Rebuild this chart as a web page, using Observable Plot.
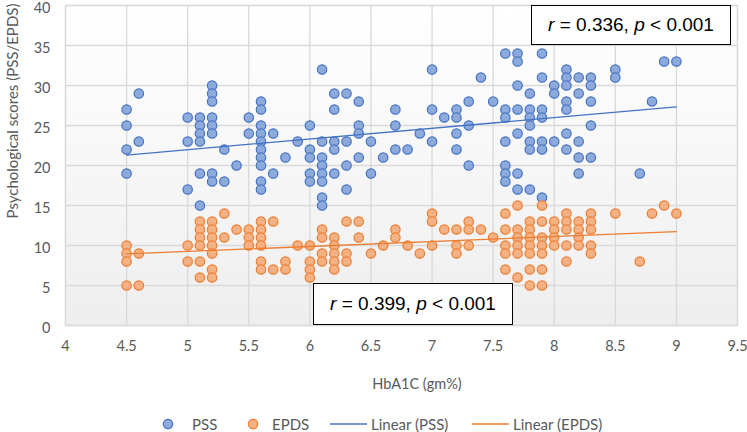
<!DOCTYPE html>
<html>
<head>
<meta charset="utf-8">
<script src="https://cdn.jsdelivr.net/npm/d3@7"></script>
<script src="https://cdn.jsdelivr.net/npm/@observablehq/plot@0.6"></script>
<style>
  html, body { margin: 0; padding: 0; background: #fff; }
  #wrap { position: relative; width: 747px; height: 432px; font-family: Lato, "Open Sans", sans-serif; color: #595959; overflow: hidden; }
  .note { position: absolute; box-sizing: border-box; background: #fff; border: 1.6px solid #000;
          font-family: "Liberation Sans", Arial, sans-serif; font-size: 19px; color: #000;
          display: flex; align-items: center; justify-content: center; }
  .title { position: absolute; white-space: nowrap; transform: translate(-50%, -50%); }
  .leg { position: absolute; top: 424px; transform: translateY(-50%); font-size: 15px; white-space: nowrap; display: flex; align-items: center; }
</style>
</head>
<body>
<div id="wrap"></div>
<script>
// HbA1C values (gm%) shared by both series
const hba1c = [4.5, 4.6, 5.0, 5.1, 5.2, 5.3, 5.4, 5.5, 5.6, 5.7, 5.8, 5.9, 6.0, 6.1, 6.2, 6.3, 6.4, 6.5, 6.6, 6.7, 6.8, 6.9, 7.0, 7.1, 7.2, 7.3, 7.4, 7.5, 7.6, 7.7, 7.8, 7.9, 8.0, 8.1, 8.2, 8.3, 8.5, 8.7, 8.8, 8.9, 9.0];
// PSS scores at each HbA1C value
const pssScores = [
  [27,25,22,19],[29,23],[26,23,17],[26,25,24,23,19,15],[30,29,28,26,25,24,19,18],[22,18],[20],[26,24],
  [28,27,25,24,23,22,21,20,18,17],[24,19],[21],[23],[25,22,21,19,18],[32,23,21,20,19,18,16,15],
  [29,27,23,22,19],[29,23,20,17],[28,25,24,21],[23,19],[21],[27,25,22],[22],[24],[32,27,23],[26],
  [27,26,24,22],[28,25,20],[31],[28],[34,27,26,23,20,19,18],[34,33,30,27,24,19,17],
  [29,27,26,25,23,22,17],[34,31,27,26,23,22,16],[30,29,23],[32,31,30,28,27,24,22],
  [31,29,23,21,19],[31,30,28,25,21],[32,31],[19],[28],[33],[33]
];
// EPDS scores at each HbA1C value
const epdsScores = [
  [10,9,8,5],[9,5],[10,8],[13,12,11,10,8,6],[13,12,11,10,9,7,6],[14,11],[12],[12,11,10],
  [13,12,11,10,8,7],[13,7],[8,7],[10],[10,8,7,6],[12,11,9,8],[11,10,9,8,7],[13,9,8],[13,11],[9],
  [10],[12,11],[10],[9],[14,13,10],[12],[12,10,9],[13,12,10],[12],[11],[14,12,10,9,7],
  [15,12,11,10,9,6],[13,12,11,10,9,7,5],[15,13,11,10,9,7,5],[13,12,11,10],[14,13,12,10,8],
  [13,12,11,10],[14,13,12,10,9],[14],[8],[14],[15],[14]
];
const xTicks = [4, 4.5, 5, 5.5, 6, 6.5, 7, 7.5, 8, 8.5, 9, 9.5];
const yTicks = [0, 5, 10, 15, 20, 25, 30, 35, 40];
const seriesNames = ["PSS", "EPDS"];
const notes = ["0.336", "0.399"];
const xTitle = "HbA1C (gm%)";
const yTitle = "Psychological scores (PSS/EPDS)";

const flatten = (scores) => hba1c.flatMap((x, i) => scores[i].map(y => ({x, y})));
const pss = flatten(pssScores);
const epds = flatten(epdsScores);

const blue = "#4472c4", blueFill = "#8eaadb";
const orange = "#ed7d31", orangeFill = "#f4b183";

const chart = Plot.plot({
  width: 747,
  height: 395,
  marginLeft: 65,
  marginRight: 10,
  marginTop: 5,
  marginBottom: 70,
  style: {fontFamily: "Lato, 'Open Sans', sans-serif", fontSize: "14.5px", color: "#595959", background: "transparent"},
  x: {domain: [4, 9.5]},
  y: {domain: [0, 40]},
  marks: [
    Plot.frame({fill: "url(#plotBg)", stroke: null}),
    Plot.gridX(xTicks, {stroke: "#d9d9d9", strokeOpacity: 1, strokeWidth: 1.3}),
    Plot.gridY(yTicks, {stroke: "#d9d9d9", strokeOpacity: 1, strokeWidth: 1.3}),
    Plot.frame({stroke: "#d9d9d9", strokeWidth: 1.3}),
    Plot.axisX(xTicks, {tickSize: 0, tickPadding: 15, tickFormat: d => String(d), fontSize: 14.5, label: null}),
    Plot.axisY(yTicks, {tickSize: 0, tickPadding: 15, dy: 3, fontSize: 14.5, label: null}),
    Plot.dot(pss, {x: "x", y: "y", r: 4.7, fill: blueFill, stroke: blue, strokeWidth: 1.2}),
    Plot.dot(epds, {x: "x", y: "y", r: 4.7, fill: orangeFill, stroke: orange, strokeWidth: 1.2}),
    Plot.linearRegressionY(pss, {x: "x", y: "y", stroke: blue, strokeWidth: 1.3, ci: 0}),
    Plot.linearRegressionY(epds, {x: "x", y: "y", stroke: orange, strokeWidth: 1.3, ci: 0})
  ]
});

// background gradient for the plot area
const ns = "http://www.w3.org/2000/svg";
const defs = document.createElementNS(ns, "defs");
defs.innerHTML = '<linearGradient id="plotBg" x1="0" y1="0" x2="0" y2="1"><stop offset="0" stop-color="#ffffff"/><stop offset="1" stop-color="#eeeeee"/></linearGradient>';
chart.insertBefore(defs, chart.firstChild);

const wrap = document.getElementById("wrap");
wrap.appendChild(chart);

// axis titles
const xt = document.createElement("div");
xt.className = "title"; xt.textContent = xTitle;
xt.style.left = "417px"; xt.style.top = "383px"; xt.style.fontSize = "14.5px";
wrap.appendChild(xt);
const yt = document.createElement("div");
yt.className = "title"; yt.textContent = yTitle;
yt.style.left = "12px"; yt.style.top = "111px"; yt.style.fontSize = "15px";
yt.style.transform = "translate(-50%, -50%) rotate(-90deg)";
wrap.appendChild(yt);

// annotation boxes
const boxes = [
  {text: notes[0], left: 531, top: 5, w: 200, h: 40},
  {text: notes[1], left: 313, top: 283, w: 200, h: 42}
];
for (const b of boxes) {
  const d = document.createElement("div");
  d.className = "note";
  d.style.left = b.left + "px"; d.style.top = b.top + "px";
  d.style.width = b.w + "px"; d.style.height = b.h + "px";
  d.innerHTML = '<span><i>r</i> = ' + b.text + ', <i>p</i> &lt; 0.001</span>';
  wrap.appendChild(d);
}

// legend
const items = [
  {type: "dot", label: seriesNames[0], fill: blueFill, stroke: blue, left: 161, gap: 17},
  {type: "dot", label: seriesNames[1], fill: orangeFill, stroke: orange, left: 246, gap: 12},
  {type: "line", label: "Linear (" + seriesNames[0] + ")", stroke: blue, left: 330, gap: 4},
  {type: "line", label: "Linear (" + seriesNames[1] + ")", stroke: orange, left: 472, gap: 4}
];
for (const it of items) {
  const el = document.createElement("div");
  el.className = "leg";
  el.style.left = it.left + "px";
  el.style.gap = it.gap + "px";
  const sym = it.type === "dot"
    ? `<svg width="14" height="14"><circle cx="7" cy="7" r="4.7" fill="${it.fill}" stroke="${it.stroke}" stroke-width="1.2"/></svg>`
    : `<svg width="37" height="12"><line x1="0" x2="37" y1="6" y2="6" stroke="${it.stroke}" stroke-width="1.5"/></svg>`;
  el.innerHTML = sym + `<span>${it.label}</span>`;
  wrap.appendChild(el);
}
</script>
</body>
</html>
